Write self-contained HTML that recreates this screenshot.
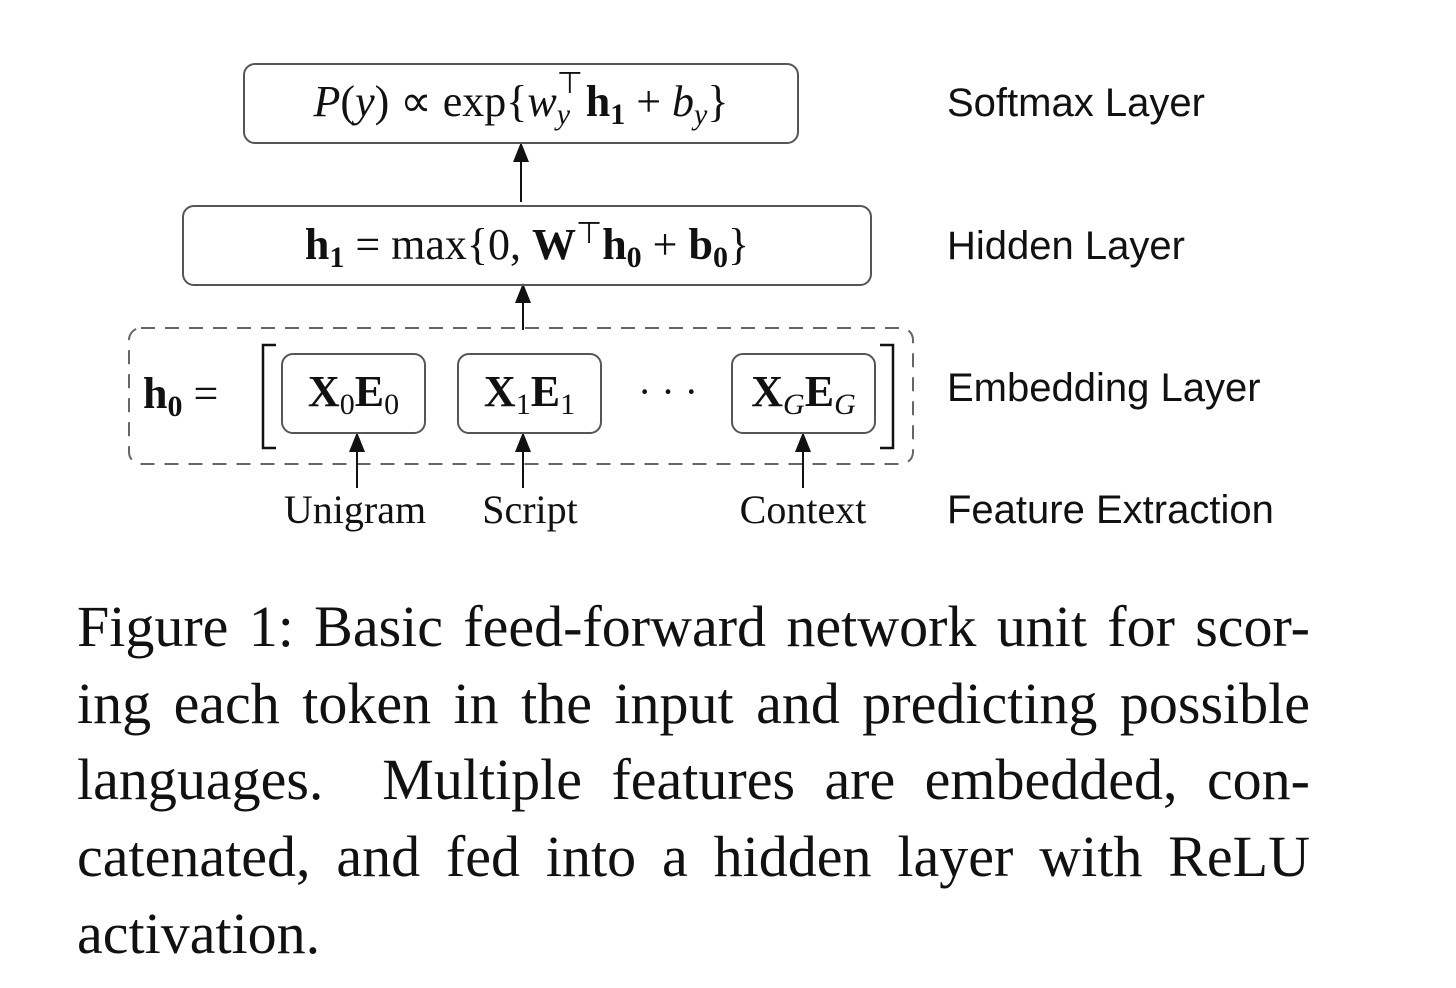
<!DOCTYPE html>
<html><head><meta charset="utf-8"><style>
body{margin:0;width:1456px;height:988px;background:#fff;position:relative;overflow:hidden;font-family:"Liberation Serif",serif;color:#111}
.box{position:absolute;border:2px solid #555;border-radius:12px;box-sizing:border-box;display:flex;align-items:center;justify-content:center;font-size:44px;white-space:nowrap}
.lbl{position:absolute;font-family:"Liberation Sans",sans-serif;font-size:40px;left:947px;line-height:40px}
.in{position:absolute;font-size:40px;line-height:40px;transform:translateX(-50%)}
.cap{position:absolute;left:77px;width:1233px;font-size:58px;line-height:60px;text-align:justify;text-align-last:justify;white-space:nowrap}
sub{font-size:30px;vertical-align:-8px}
sup{font-size:30px;vertical-align:16px}
b{font-weight:bold}
</style></head><body>
<svg style="position:absolute;left:0;top:0" width="1456" height="988">
<defs><marker id="ah" markerWidth="10" markerHeight="10" refX="5" refY="5" orient="auto"><path d="M0,1 L10,5 L0,9 Z" fill="#111"/></marker></defs>
<rect x="129" y="328" width="784" height="136" rx="12" fill="none" stroke="#666" stroke-width="2" stroke-dasharray="14,10"/>
<line x1="521" y1="202" x2="521" y2="152" stroke="#111" stroke-width="2" marker-end="url(#ah)"/>
<line x1="523" y1="330" x2="523" y2="293" stroke="#111" stroke-width="2" marker-end="url(#ah)"/>
<line x1="357" y1="488" x2="357" y2="442" stroke="#111" stroke-width="2" marker-end="url(#ah)"/>
<line x1="523" y1="488" x2="523" y2="442" stroke="#111" stroke-width="2" marker-end="url(#ah)"/>
<line x1="803" y1="488" x2="803" y2="442" stroke="#111" stroke-width="2" marker-end="url(#ah)"/>
<path d="M276,345 L263,345 L263,448 L276,448" fill="none" stroke="#111" stroke-width="2.5"/>
<path d="M880,345 L893,345 L893,448 L880,448" fill="none" stroke="#111" stroke-width="2.5"/>
</svg>
<div class="box" style="left:243px;top:63px;width:556px;height:81px"><span><i>P</i>(<i>y</i>)&nbsp;∝&nbsp;exp{<i>w</i><span style="display:inline-block;position:relative;width:18px;height:10px"><span style="position:absolute;left:0;top:-40px;font-size:30px">⊤</span><i style="position:absolute;left:0;top:-8px;font-size:30px">y</i></span>&nbsp;<b>h<sub>1</sub></b>&nbsp;+&nbsp;<i>b<sub>y</sub></i>}</span></div>
<div class="box" style="left:182px;top:205px;width:690px;height:81px"><span><b>h<sub>1</sub></b>&nbsp;=&nbsp;max{0,&nbsp;<b>W</b><sup>⊤</sup><b>h<sub>0</sub></b>&nbsp;+&nbsp;<b>b<sub>0</sub></b>}</span></div>
<div style="position:absolute;left:143px;top:368px;font-size:44px"><b>h<sub>0</sub></b> =</div>
<div class="box" style="left:281px;top:353px;width:145px;height:81px"><span><b>X</b><sub>0</sub><b>E</b><sub>0</sub></span></div>
<div class="box" style="left:457px;top:353px;width:145px;height:81px"><span><b>X</b><sub>1</sub><b>E</b><sub>1</sub></span></div>
<div style="position:absolute;left:638px;top:368px;font-size:40px">· · ·</div>
<div class="box" style="left:731px;top:353px;width:145px;height:81px"><span><b>X</b><sub><i>G</i></sub><b>E</b><sub><i>G</i></sub></span></div>
<div class="in" style="left:355px;top:490px">Unigram</div>
<div class="in" style="left:530px;top:490px">Script</div>
<div class="in" style="left:803px;top:490px">Context</div>
<div class="lbl" style="top:83px">Softmax Layer</div>
<div class="lbl" style="top:226px">Hidden Layer</div>
<div class="lbl" style="top:368px">Embedding Layer</div>
<div class="lbl" style="top:490px">Feature Extraction</div>
<div>
<div class="cap" style="top:597px">Figure 1: Basic feed-forward network unit for scor-</div>
<div class="cap" style="top:674px">ing each token in the input and predicting possible</div>
<div class="cap" style="top:750px">languages.&nbsp; Multiple features are embedded, con-</div>
<div class="cap" style="top:827px">catenated, and fed into a hidden layer with ReLU</div>
<div class="cap" style="top:904px;text-align-last:left">activation.</div>
</div>
</body></html>
